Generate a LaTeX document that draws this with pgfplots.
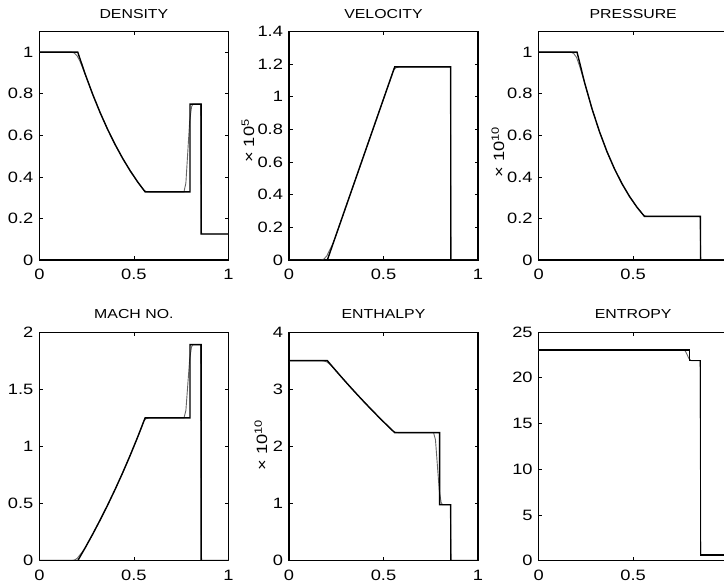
\documentclass[border=0pt]{standalone}
\usepackage{pgfplots}
\usepackage{pgfplotstable}
\usepackage{fontspec}
\setmainfont{Liberation Sans}[FakeStretch=1.22]
\pgfplotsset{compat=1.18}

% Exact Riemann solution (gamma = 1.4), x0 = 0.5
% columns: x, density, velocity (1e5), pressure (1e10), Mach, enthalpy (1e10), entropy
\pgfplotstableread{
x      rho    u      p      M      h      s
0      1      0      1      0      3.5    23.03
0.203  1      0      1      0      3.5    23.03
0.2426 0.8935 0.1318 0.8541 0.1139 3.3458 23.03
0.2822 0.7965 0.2632 0.7272 0.2328 3.1955 23.03
0.3218 0.7081 0.3947 0.6168 0.3574 3.0486 23.03
0.3614 0.6277 0.5261 0.5211 0.4880 2.9052 23.03
0.4010 0.5549 0.6575 0.4384 0.6251 2.7653 23.03
0.4406 0.4889 0.7889 0.3672 0.7693 2.6288 23.03
0.4802 0.4294 0.9203 0.3062 0.9211 2.4958 23.03
0.5198 0.3758 1.0517 0.2541 1.0811 2.3662 23.03
0.5594 0.3278 1.1828 0.2099 1.2494 2.2405 23.03
0.797  0.3278 1.1828 0.2099 1.2494 2.2405 23.03
0.797  0.75   1.1828 0.2099 1.8898 0.9793 21.87
0.856  0.75   1.1828 0.2099 1.8898 0.9793 21.87
0.856  0.125  0      0      0      0      0.61
1      0.125  0      0      0      0      0.61
}\exact

% Numerical solution (smeared at the rarefaction edges and the contact)
\pgfplotstableread{
x      rho    u      p      M      h      s
0      1      0      1      0      3.5    23.03
0.170  1      0      1      0      3.5    23.03
0.185  0.996  0.006  0.994  0.005  3.496  23.03
0.200  0.982  0.025  0.975  0.021  3.478  23.03
0.215  0.955  0.060  0.937  0.052  3.44   23.03
0.230  0.922  0.095  0.892  0.083  3.39   23.03
0.2426 0.8935 0.1318 0.8541 0.1139 3.3458 23.03
0.2822 0.7965 0.2632 0.7272 0.2328 3.1955 23.03
0.3218 0.7081 0.3947 0.6168 0.3574 3.0486 23.03
0.3614 0.6277 0.5261 0.5211 0.4880 2.9052 23.03
0.4010 0.5549 0.6575 0.4384 0.6251 2.7653 23.03
0.4406 0.4889 0.7889 0.3672 0.7693 2.6288 23.03
0.4802 0.4294 0.9203 0.3062 0.9211 2.4958 23.03
0.5198 0.3758 1.0517 0.2541 1.0811 2.3662 23.03
0.540  0.3515 1.118  0.2310 1.163  2.302  23.03
0.552  0.3370 1.160  0.2180 1.222  2.262  23.03
0.565  0.3295 1.177  0.2110 1.243  2.245  23.03
0.585  0.3280 1.1828 0.2099 1.2494 2.2405 23.03
0.765  0.3280 1.1828 0.2099 1.2494 2.2405 23.03
0.775  0.370  1.1828 0.2099 1.313  2.114  22.95
0.785  0.518  1.1828 0.2099 1.537  1.673  22.55
0.795  0.666  1.1828 0.2099 1.762  1.232  22.10
0.805  0.737  1.1828 0.2099 1.871  1.018  21.90
0.812  0.75   1.1828 0.2099 1.8898 0.9793 21.87
0.853  0.75   1.1828 0.2099 1.8898 0.9793 21.87
0.858  0.125  0      0      0      0      0.61
1      0.125  0      0      0      0      0.61
}\numer

\pgfplotsset{
  panel/.style={
    scale only axis, width=189pt, height=228.6pt, anchor=south west,
    xmin=0, xmax=1, xtick={0,0.5,1}, xticklabels={0,0.5,1},
    tick align=inside, major tick length=3.5pt,
    axis line style={line width=1.1pt},
    every tick/.style={black, line width=0.7pt},
    /pgf/number format/assume math mode=true,
    ticklabel style={font=\fontsize{15}{15}\selectfont},
    xticklabel style={yshift=-6pt},
    yticklabel style={xshift=-2.5pt},
    title style={font=\fontsize{13}{13}\selectfont, anchor=base, at={(0.5,1)}, yshift=7.2pt},
  },
  rightcol/.style={xticklabels={0,0.5,{}}},
  exact/.style={black, line width=1.4pt},
  numer/.style={black!60, line width=0.9pt},
}
\tikzset{factor/.style={rotate=90, font=\fontsize{15}{15}\selectfont, inner sep=0pt}}

\begin{document}
\begin{tikzpicture}
% top row
\begin{axis}[panel, at={(39.4pt,323pt)}, title={DENSITY},
  ymin=0, ymax=1.1, ytick={0,0.2,0.4,0.6,0.8,1}]
\addplot[numer] table[x=x, y=rho] {\numer};
\addplot[exact] table[x=x, y=rho] {\exact};
\end{axis}
\begin{axis}[panel, at={(289pt,323pt)}, title={VELOCITY},
  ymin=0, ymax=1.4, ytick={0,0.2,0.4,0.6,0.8,1,1.2,1.4}]
\addplot[numer] table[x=x, y=u] {\numer};
\addplot[exact] table[x=x, y=u] {\exact};
\end{axis}
\begin{axis}[panel, rightcol, at={(538.7pt,323pt)}, title={PRESSURE},
  ymin=0, ymax=1.1, ytick={0,0.2,0.4,0.6,0.8,1}]
\addplot[numer] table[x=x, y=p] {\numer};
\addplot[exact] table[x=x, y=p] {\exact};
\end{axis}
% bottom row
\begin{axis}[panel, at={(39.4pt,22.3pt)}, title={MACH NO.},
  ymin=0, ymax=2, ytick={0,0.5,1,1.5,2}]
\addplot[numer] table[x=x, y=M] {\numer};
\addplot[exact] table[x=x, y=M] {\exact};
\end{axis}
\begin{axis}[panel, at={(289pt,22.3pt)}, title={ENTHALPY},
  ymin=0, ymax=4, ytick={0,1,2,3,4}]
\addplot[numer] table[x=x, y=h] {\numer};
\addplot[exact] table[x=x, y=h] {\exact};
\end{axis}
\begin{axis}[panel, rightcol, at={(538.7pt,22.3pt)}, title={ENTROPY},
  ymin=0, ymax=25, ytick={0,5,10,15,20,25}]
\addplot[numer] table[x=x, y=s] {\numer};
\addplot[exact] table[x=x, y=s] {\exact};
\end{axis}
% scale factors
\node[factor] at (248pt,442pt) {×\,\,10\textsuperscript{5}};
\node[factor] at (498pt,431pt) {×\,\,10\textsuperscript{10}};
\node[factor] at (261pt,138pt) {×\,\,10\textsuperscript{10}};
\pgfresetboundingbox
\useasboundingbox (0pt,0pt) rectangle (724pt,583pt);
\end{tikzpicture}
\end{document}
